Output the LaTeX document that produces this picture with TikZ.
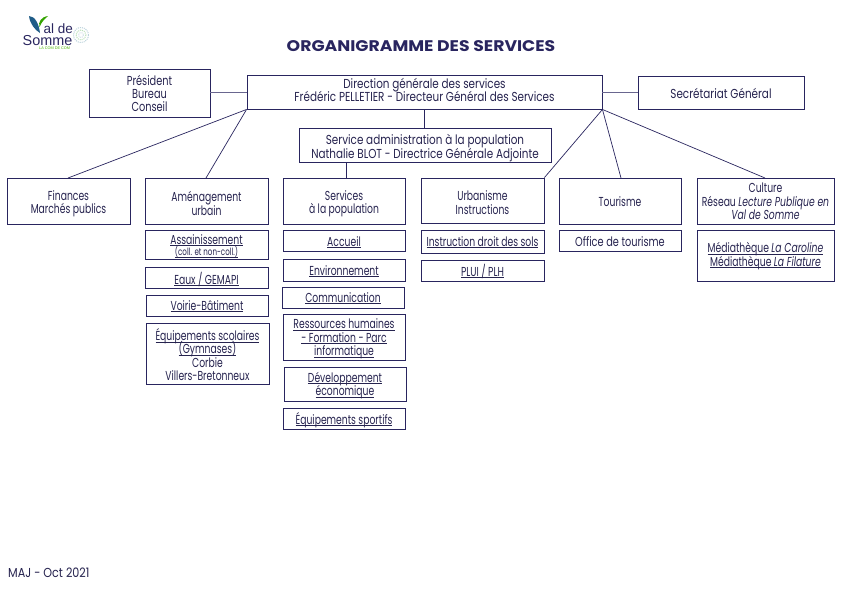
\documentclass[tikz,border=0pt]{standalone}
\usepackage{fontspec}
\setmainfont[FakeStretch=0.71]{Poppins}
\newfontfamily\wf[FakeStretch=0.8]{Poppins}
\newfontfamily\mf[FakeStretch=0.75]{Poppins}
\newfontfamily\majf[FakeStretch=0.86]{Poppins}
\newfontfamily\titlefont[FakeStretch=1.12]{Poppins}
\newfontfamily\logofont{Liberation Sans}
\definecolor{navy}{HTML}{29255F}
\definecolor{txt}{HTML}{26234F}
\newsavebox{\ulbox}
\newcommand{\ul}[1]{\sbox{\ulbox}{#1}\rlap{\rule[-1.6pt]{\wd\ulbox}{0.45pt}}\usebox{\ulbox}}
\tikzset{
  bx/.style={draw=navy,line width=0.9pt,fill=white,inner sep=0pt},
  lbl/.style={inner sep=0pt,align=center,text=txt,font=\fontsize{13}{13.4}\selectfont,
    execute at begin node={\lineskiplimit=-30pt}},
  link/.style={draw=navy,line width=0.7pt},
  grey link/.style={draw=navy!70,line width=0.9pt},
}
% name, text, x1, x2, y1, y2, text centre y
\newcommand{\bxat}[7]{%
  \node[bx,minimum width=#4 pt-#3 pt,minimum height=#6 pt-#5 pt] (#1) at ({(#3+#4)/2},{(#5+#6)/2}) {};
  \node[lbl] (#1-t) at ({(#3+#4)/2},#7) {#2};}
\begin{document}
\begin{tikzpicture}[x=1pt,y=-1pt]
\useasboundingbox[fill=white] (0,0) rectangle (842,595);
\coordinate (finT) at (68,178);
\coordinate (amT) at (206,178);
\coordinate (cuT) at (765,178);
\coordinate (touT) at (621,178);
\coordinate (admS) at (346,162);
\coordinate (serT) at (346,178);
% logo
\fill[navy!75!cyan] (29,16) .. controls (35,16) and (39,24) .. (40,33) .. controls (35,30) and (30,24) .. (29,16);
\fill[green!55!black!80!yellow] (48,16) .. controls (45,19) and (42,21) .. (39.5,27) .. controls (38,22) and (41,17) .. (48,16);
\node[inner sep=0pt,anchor=base west,text=navy,font=\logofont\fontsize{13.5}{14}\selectfont] (logoA) at (43.5,33.5) {al de};
\node[inner sep=0pt,anchor=base west,text=navy,font=\logofont\fontsize{14.4}{14}\selectfont] (logoB) at (22.5,45) {Somme};
\node[inner sep=0pt,anchor=base west,text=green!60!black!70!yellow,font=\logofont\fontsize{3.8}{4}\selectfont] (logoC) at (39,49.5) {LA COM DE COM};
\draw[cyan!35!gray!45,line width=1pt,densely dotted] (81,35) circle (7.5);
\draw[green!40!gray!40,line width=1pt,densely dotted] (81,35) circle (5);
\draw[cyan!35!gray!30,line width=1pt,densely dotted] (81,35) circle (2.5);
% title
\node[inner sep=0pt,text=navy,font=\titlefont\bfseries\fontsize{15.4}{16}\selectfont] (title) at (421,46) {ORGANIGRAMME DES SERVICES};
% boxes
\bxat{pres}{\mf Président\\\mf Bureau\\\mf Conseil}{89}{210}{69}{117}{93.5}
\bxat{dg}{\wf Direction générale des services\\\wf Frédéric PELLETIER - Directeur Général des Services}{247}{602}{75}{109}{90}
\bxat{sg}{\wf Secrétariat Général}{638}{804}{76}{109}{93}
\bxat{adm}{\wf Service administration à la population\\\wf Nathalie BLOT - Directrice Générale Adjointe}{299}{551}{128}{162}{148}
\bxat{fin}{Finances\\Marchés publics}{7}{130}{178}{224}{204}
\bxat{am}{Aménagement\\urbain}{145}{268}{178}{224}{203.5}
\bxat{ser}{Services\\à la population}{283}{405}{178}{224}{204}
\bxat{urb}{Urbanisme\\Instructions}{421}{544}{178}{223}{202.5}
\bxat{tou}{Tourisme}{559}{681}{178}{224}{201.5}
\bxat{cul}{Culture\\Réseau \textit{Lecture Publique en}\\\textit{Val de Somme}}{697}{834}{178}{224}{201.5}
\bxat{ass}{\ul{Assainissement}\\[-1.5pt]{\fontsize{10}{10}\selectfont\ul{(coll. et non-coll.)}}}{145}{268}{230}{259}{246}
\bxat{eau}{\ul{Eaux / GEMAPI}}{145}{268}{267}{288}{279}
\bxat{voi}{\ul{Voirie-Bâtiment}}{146}{268}{295}{316}{306}
\bxat{esc}{\ul{Équipements scolaires}\\\ul{(Gymnases)}\\Corbie\\Villers-Bretonneux}{146}{269}{323}{384}{354.5}
\bxat{acc}{\ul{Accueil}}{283}{405}{230}{251}{242}
\bxat{env}{\ul{Environnement}}{283}{405}{259}{281}{271}
\bxat{com}{\ul{Communication}}{282}{404}{287}{308}{298}
\bxat{res}{\ul{Ressources humaines}\\\ul{- Formation - Parc}\\\ul{informatique}}{283}{405}{314}{360}{339}
\bxat{dev}{\ul{Développement}\\\ul{économique}}{284}{406}{367}{401}{385.5}
\bxat{spo}{\ul{Équipements sportifs}}{283}{405}{408}{429}{420}
\bxat{ins}{\ul{Instruction droit des sols}}{421}{544}{230}{253}{242}
\bxat{plu}{\ul{PLUI / PLH}}{421}{544}{260}{281}{271}
\bxat{off}{\mf Office de tourisme}{559}{681}{230}{251}{241.5}
\bxat{med}{\ul{Médiathèque \textit{La Caroline}}\\\ul{Médiathèque \textit{La Filature}}}{697}{834}{230}{281}{256}
% connectors
\draw[grey link] (pres.east |- dg.west) -- (dg.west);
\draw[grey link] (dg.east) -- (dg.east -| sg.west);
\draw[link] (dg.south) -- (adm.north -| dg.south);
\draw[link] (admS) -- (serT);
\draw[link] (dg.south west) -- (finT);
\draw[link] (dg.south west) -- (amT);
\draw[link] (dg.south east) -- (urb.north east);
\draw[link] (dg.south east) -- (touT);
\draw[link] (dg.south east) -- (cuT);
% footer
\node[inner sep=0pt,anchor=base west,text=txt,font=\majf\fontsize{13}{13}\selectfont] (maj) at (8,577) {MAJ - Oct 2021};
\end{tikzpicture}
\end{document}
